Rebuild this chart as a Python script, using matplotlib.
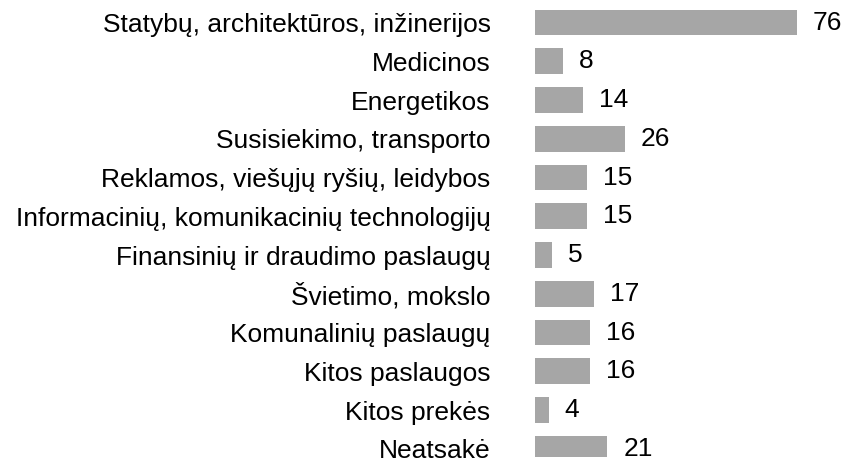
import matplotlib
matplotlib.use("Agg")
import matplotlib.pyplot as plt

categories = [
    "Statybų, architektūros, inžinerijos",
    "Medicinos",
    "Energetikos",
    "Susisiekimo, transporto",
    "Reklamos, viešųjų ryšių, leidybos",
    "Informacinių, komunikacinių technologijų",
    "Finansinių ir draudimo paslaugų",
    "Švietimo, mokslo",
    "Komunalinių paslaugų",
    "Kitos paslaugos",
    "Kitos prekės",
    "Neatsakė",
]
values = [76, 8, 14, 26, 15, 15, 5, 17, 16, 16, 4, 21]

plt.rcParams['font.family'] = ['Liberation Sans', 'DejaVu Sans']

W, H = 845, 459
fig = plt.figure(figsize=(W / 100, H / 100), dpi=100)

# axes in pixel coordinates
x0, x1 = 535, 797
step = 38.75
c0 = 22.5
ylo, yhi = -0.5, 11.2
top_px = c0 + ylo * step
bot_px = c0 + yhi * step
ax = fig.add_axes([x0 / W, 1 - bot_px / H, (x1 - x0) / W, (bot_px - top_px) / H])

ypos = list(range(len(categories)))
ax.barh(ypos, values, height=0.66, color="#A6A6A6")
ax.set_xlim(0, 76)
ax.set_ylim(yhi, ylo)

for y, v in zip(ypos, values):
    ax.annotate(str(v), xy=(v, y), xytext=(11.5, 0), textcoords="offset points",
                va="center", ha="left", fontsize=19, color="black", annotation_clip=False)

ax.set_yticks(ypos)
ax.set_yticklabels(categories, fontsize=19)
ax.tick_params(axis="y", length=0, pad=32)
ax.tick_params(axis="x", bottom=False, labelbottom=False)
for s in ax.spines.values():
    s.set_visible(False)

fig.savefig("out.png", dpi=100)
